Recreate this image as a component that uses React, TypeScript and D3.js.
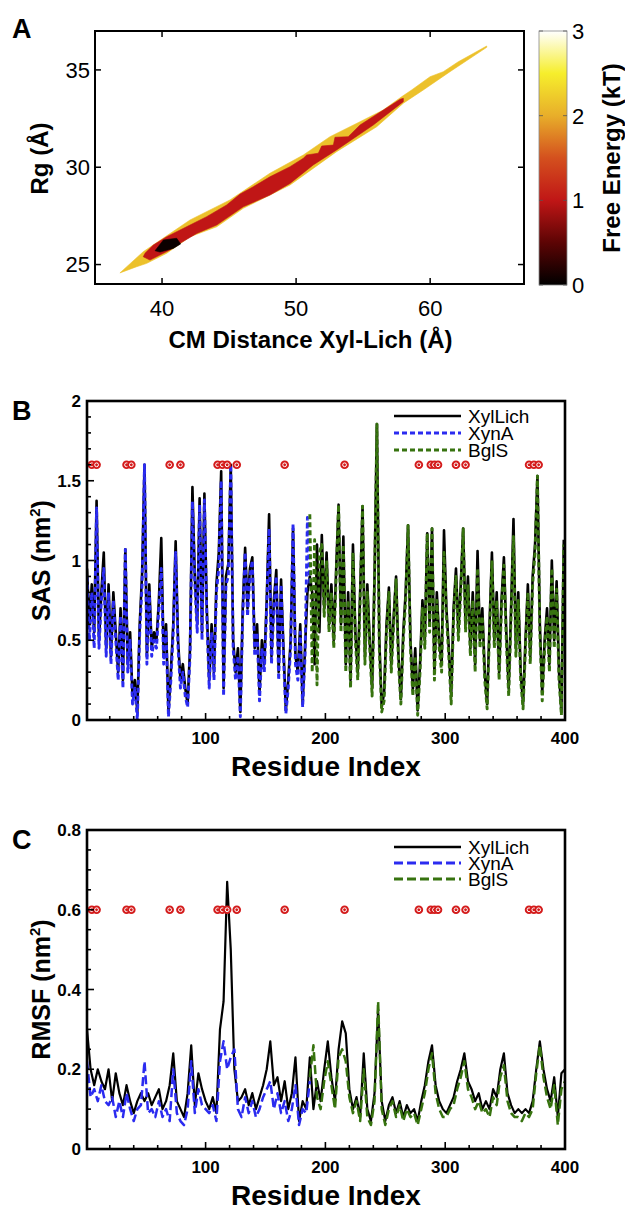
import React from 'react'
import * as d3 from 'd3'

// ---- panel A: free energy landscape (outlines of the filled contour levels)
const levelValues = [2.15, 1.0, 0.06]
const level2X = [36.86, 38.6, 42.09, 45.07, 48.05, 50.54, 52.53, 54.77, 56.5, 57.87, 58.62, 59.99, 60.98, 62.1, 64.22,
  64.22, 61.48, 59.49, 58.0, 56.01, 53.02, 49.55, 46.06, 44.08, 42.09, 40.35, 38.86, 38.11]
const level2Y = [24.57, 25.66, 27.29, 28.32, 29.69, 30.63, 31.57, 32.34, 32.94, 33.62, 33.97, 34.65, 34.91, 35.42, 36.23,
  36.16, 34.91, 33.97, 33.29, 32.08, 30.8, 29.09, 27.89, 26.94, 26.43, 25.58, 25.06, 24.89]
const level1X = [38.73, 39.35, 40.35, 42.09, 43.33, 44.82, 45.82, 46.81, 48.05, 49.55, 50.54, 50.79, 51.66, 51.91, 52.78, 52.9,
  53.89, 54.77, 57.76, 58.0, 58.0, 55.76, 53.02, 51.28, 49.55, 48.05, 46.06, 44.08, 42.59, 41.34, 40.59, 39.1, 38.6]
const level1Y = [25.58, 26.0, 26.43, 27.03, 27.46, 28.06, 28.62, 29.0, 29.51, 30.03, 30.46, 30.63, 30.72, 31.09, 31.14, 31.54,
  31.57, 32.17, 33.49, 33.54, 33.37, 32.17, 30.89, 30.12, 29.17, 28.57, 27.97, 27.03, 26.6, 26.09, 25.75, 25.23, 25.4]
const level0X = [39.48, 40.1, 41.09, 41.39, 40.84, 39.85]
const level0Y = [25.71, 26.26, 26.35, 26.06, 25.83, 25.64]
const cmTicks = [40, 50, 60]
const rgTicks = [25, 30, 35]
const cbTicks = [0, 1, 2, 3]
const cbStops = [0, 0.5, 1, 1.5, 2, 2.5, 3]
const cbColors = ['#000000', '#5c0404', '#c01616', '#d4501e', '#e8ae2a', '#f6ee2c', '#ffffff']

// ---- panel B: SAS (nm^2)
const sasXylLich = [
  0.95, 0.6, 0.85, 0.55, 1.375, 0.5, 0.8, 1.05, 0.45, 0.85,
  0.4, 0.8, 0.55, 0.3, 0.7, 0.25, 1.07, 0.35, 0.55, 0.15,
  0.25, 0.05, 0.6, 0.92, 1.6, 0.4, 0.85, 0.45, 0.55, 0.5,
  0.75, 1.14, 0.4, 0.6, 0.05, 0.3, 0.6, 1.12, 0.5, 0.25,
  0.35, 0.2, 0.1, 0.45, 1.46, 0.9, 0.6, 1.39, 0.55, 1.42,
  0.7, 0.25, 0.6, 0.3, 0.85, 1.05, 1.56, 0.2, 0.9, 0.98,
  1.6, 0.5, 0.3, 0.45, 0.05, 0.7, 1.08, 0.7, 0.95, 1.02,
  0.45, 0.6, 0.17, 0.5, 0.35, 0.75, 1.29, 0.4, 0.75, 0.94,
  0.3, 0.88, 0.45, 0.06, 0.25, 0.5, 1.2, 0.4, 0.3, 0.6,
  0.1, 0.45, 0.8, 0.9, 0.8, 0.35, 1.1, 0.55, 1.16, 0.7,
  1.05, 0.6, 0.85, 0.5, 0.95, 1.35, 0.6, 1.15, 0.35, 0.8,
  0.25, 1.1, 0.55, 0.3, 0.8, 1.34, 0.4, 0.85, 0.5, 0.2,
  0.9, 1.855, 0.5, 0.08, 0.17, 0.6, 0.83, 0.35, 0.65, 0.9,
  0.4, 0.13, 0.55, 0.8, 1.22, 0.5, 0.19, 0.45, 0.06, 0.35,
  0.75, 0.5, 1.17, 0.6, 1.2, 0.3, 0.8, 0.5, 0.35, 1.19,
  0.7, 0.45, 0.15, 0.7, 0.95, 0.55, 0.85, 1.2, 0.6, 0.9,
  0.45, 0.8, 0.35, 1.06, 0.5, 0.7, 0.3, 0.1, 0.6, 1.05,
  0.5, 0.8, 0.3, 0.75, 1.02, 0.55, 0.2, 0.7, 1.26, 0.45,
  0.8, 0.3, 0.1, 0.5, 0.85, 0.4, 0.9, 1.1, 1.53, 0.6,
  0.17, 0.5, 0.7, 0.35, 1.0, 0.5, 0.87, 0.3, 0.05, 1.13
]
const sasXynA = [
  0.9, 0.5, 0.8, 0.45, 1.33, 0.45, 0.75, 0.95, 0.4, 0.8,
  0.35, 0.75, 0.5, 0.25, 0.65, 0.2, 1.07, 0.3, 0.5, 0.1,
  0.2, 0.0, 0.55, 0.85, 1.6, 0.35, 0.8, 0.4, 0.5, 0.45,
  0.7, 0.95, 0.35, 0.55, 0.02, 0.25, 0.55, 1.05, 0.45, 0.2,
  0.3, 0.15, 0.08, 0.4, 1.37, 0.85, 0.55, 1.35, 0.5, 1.38,
  0.65, 0.2, 0.55, 0.25, 0.8, 0.95, 1.5, 0.15, 0.85, 0.9,
  1.6, 0.45, 0.25, 0.4, 0.02, 0.65, 1.05, 0.65, 0.9, 1.0,
  0.4, 0.55, 0.12, 0.45, 0.3, 0.7, 1.2, 0.35, 0.7, 0.9,
  0.25, 0.85, 0.4, 0.04, 0.2, 0.45, 1.23, 0.35, 0.25, 0.55,
  0.08, 0.4, 1.27, 0.85
]
const sasBglS = [
  1.29, 0.3, 1.13, 0.22, 1.05, 1.1, 0.65,
  1.0, 0.55, 0.8, 0.45, 0.9, 1.35, 0.55, 1.1, 0.3, 0.75,
  0.2, 1.05, 0.5, 0.25, 0.75, 1.34, 0.35, 0.8, 0.45, 0.15,
  0.85, 1.855, 0.45, 0.05, 0.12, 0.55, 0.8, 0.3, 0.6, 0.88,
  0.35, 0.1, 0.5, 0.75, 1.22, 0.45, 0.15, 0.4, 0.03, 0.3,
  0.7, 0.45, 1.17, 0.55, 1.2, 0.25, 0.75, 0.45, 0.3, 1.05,
  0.65, 0.4, 0.1, 0.65, 0.9, 0.5, 0.8, 1.2, 0.55, 0.85,
  0.4, 0.75, 0.3, 0.95, 0.45, 0.65, 0.25, 0.07, 0.55, 1.0,
  0.45, 0.75, 0.25, 0.7, 0.97, 0.5, 0.15, 0.65, 1.15, 0.4,
  0.75, 0.25, 0.07, 0.45, 0.8, 0.35, 0.85, 1.05, 1.53, 0.55,
  0.12, 0.45, 0.65, 0.3, 0.95, 0.45, 0.82, 0.25, 0.03, 1.1
]
const sasRes = d3.range(1, 401, 2)
const sasXynARes = d3.range(1, 188, 2)
const sasBglSRes = d3.range(187, 400, 2)

// ---- panel C: RMSF (nm^2)
const rmsfXylLich = [
  0.3, 0.2, 0.16, 0.2, 0.17, 0.15, 0.2, 0.12, 0.19, 0.14,
  0.11, 0.16, 0.12, 0.09, 0.12, 0.14, 0.12, 0.14, 0.11, 0.13,
  0.15, 0.1, 0.12, 0.16, 0.24, 0.12, 0.1, 0.08, 0.14, 0.26,
  0.11, 0.19, 0.15, 0.12, 0.1, 0.13, 0.09, 0.3, 0.37, 0.67,
  0.5, 0.2, 0.12, 0.13, 0.15, 0.11, 0.14, 0.1, 0.13, 0.16,
  0.2, 0.27, 0.16, 0.18, 0.12, 0.17, 0.1, 0.14, 0.23, 0.07,
  0.12, 0.1, 0.23, 0.1, 0.17, 0.12, 0.2, 0.27, 0.18, 0.12,
  0.25, 0.32, 0.29, 0.15, 0.1, 0.13, 0.08, 0.24, 0.1, 0.07,
  0.14, 0.35, 0.12, 0.07, 0.11, 0.13, 0.09, 0.12, 0.08, 0.11,
  0.09, 0.1, 0.07, 0.12, 0.16, 0.22, 0.26, 0.16, 0.12, 0.1,
  0.09, 0.11, 0.13, 0.17, 0.2, 0.24, 0.17, 0.15, 0.12, 0.14,
  0.1, 0.12, 0.1, 0.15, 0.13, 0.2, 0.24, 0.14, 0.11, 0.09,
  0.1, 0.09, 0.1, 0.09, 0.12, 0.2, 0.27, 0.2, 0.15, 0.12,
  0.18, 0.08, 0.19, 0.2
]
const rmsfXynA = [
  0.22, 0.13, 0.15, 0.12, 0.16, 0.12, 0.11, 0.13, 0.08, 0.12,
  0.08, 0.14, 0.1, 0.07, 0.1, 0.11, 0.22, 0.09, 0.1, 0.08,
  0.12, 0.08, 0.1, 0.07, 0.2, 0.09, 0.07, 0.06, 0.1, 0.22,
  0.09, 0.15, 0.11, 0.1, 0.09, 0.11, 0.07, 0.22, 0.27, 0.2,
  0.23, 0.25, 0.1, 0.08, 0.13, 0.09, 0.12, 0.08, 0.1, 0.13,
  0.15, 0.17, 0.1, 0.14, 0.09, 0.12, 0.07, 0.1, 0.16, 0.06,
  0.1, 0.09, 0.17
]
const rmsfBglS = [
  0.18, 0.26, 0.13, 0.1, 0.17, 0.22, 0.16, 0.1, 0.23, 0.25,
  0.22, 0.13, 0.09, 0.12, 0.07, 0.2, 0.08, 0.06, 0.12, 0.37,
  0.1, 0.06, 0.1, 0.12, 0.08, 0.11, 0.07, 0.1, 0.08, 0.09,
  0.06, 0.1, 0.14, 0.2, 0.24, 0.14, 0.1, 0.08, 0.08, 0.1,
  0.11, 0.15, 0.18, 0.22, 0.15, 0.13, 0.1, 0.12, 0.09, 0.1,
  0.08, 0.13, 0.11, 0.18, 0.21, 0.12, 0.09, 0.08, 0.08, 0.07,
  0.09, 0.08, 0.1, 0.19, 0.26, 0.18, 0.13, 0.1, 0.16, 0.06,
  0.15, 0.17
]
const rmsfRes = d3.range(1, 401, 3)
const rmsfXynARes = d3.range(1, 188, 3)
const rmsfBglSRes = d3.range(187, 401, 3)

// interface residues marked with red circles
const markerRes = [5, 9, 34, 38, 70, 79, 110, 114, 118, 126, 166, 216, 278, 288, 291, 294, 309, 317, 370, 374, 378]
const residueTicks = [100, 200, 300, 400]
const sasTicks = [0, 0.5, 1, 1.5, 2]
const rmsfTicks = [0, 0.2, 0.4, 0.6, 0.8]
const seriesNames = ['XylLich', 'XynA', 'BglS']

const FONT = 'Liberation Sans, Arial, Helvetica, sans-serif'
const BLUE = '#2b2bf0'
const GREEN = '#37730f'

const colorScale = d3.scaleLinear<string>().domain(cbStops).range(cbColors)

function zip (xs: number[], ys: number[]): [number, number][] {
  return xs.map((x, i) => [x, ys[i]])
}

function PanelA () {
  const x = d3.scaleLinear().domain([35, 67]).range([95, 524])
  const y = d3.scaleLinear().domain([24, 37]).range([284, 31])
  const cb = d3.scaleLinear().domain([0, 3]).range([285, 31])
  const line = d3.line<[number, number]>().x(d => x(d[0])).y(d => y(d[1]))
  const shapes = [zip(level2X, level2Y), zip(level1X, level1Y), zip(level0X, level0Y)]
  const [l, r, t, b] = [95, 524, 31, 284]
  return (
    <g fontFamily={FONT}>
      <text x={12} y={38} fontSize={27} fontWeight='bold'>A</text>
      {shapes.map((s, i) => (
        <path key={i} d={line(s) + 'Z'} fill={colorScale(levelValues[i])}
          stroke={colorScale(levelValues[i])} strokeWidth={0.6} strokeLinejoin='round' />
      ))}
      <rect x={l} y={t} width={r - l} height={b - t} fill='none' stroke='#000' strokeWidth={2} />
      {cmTicks.map(v => (
        <g key={v}>
          <line x1={x(v)} x2={x(v)} y1={b} y2={b - 6} stroke='#000' strokeWidth={1.5} />
          <line x1={x(v)} x2={x(v)} y1={t} y2={t + 6} stroke='#000' strokeWidth={1.5} />
          <text x={x(v)} y={316} fontSize={22} textAnchor='middle'>{v}</text>
        </g>
      ))}
      {rgTicks.map(v => (
        <g key={v}>
          <line x1={l} x2={l + 6} y1={y(v)} y2={y(v)} stroke='#000' strokeWidth={1.5} />
          <line x1={r} x2={r - 6} y1={y(v)} y2={y(v)} stroke='#000' strokeWidth={1.5} />
          <text x={90} y={y(v)} dy='0.36em' fontSize={22} textAnchor='end'>{v}</text>
        </g>
      ))}
      <text x={(l + r) / 2 + 1} y={348} fontSize={24} fontWeight='bold' textAnchor='middle'>CM Distance Xyl-Lich (Å)</text>
      <text transform={`translate(48,${(t + b) / 2 + 1}) rotate(-90)`} fontSize={24} fontWeight='bold' textAnchor='middle'>Rg (Å)</text>
      <defs>
        <linearGradient id='fe-grad' x1='0' y1='1' x2='0' y2='0'>
          {cbStops.map((v, i) => (
            <stop key={v} offset={v / 3} stopColor={cbColors[i]} />
          ))}
        </linearGradient>
      </defs>
      <rect x={539} y={31} width={28} height={254} fill='url(#fe-grad)' stroke='#888' strokeWidth={0.8} />
      {cbTicks.map(v => (
        <g key={v}>
          <line x1={539} x2={543} y1={cb(v)} y2={cb(v)} stroke='#555' strokeWidth={0.8} />
          <line x1={567} x2={563} y1={cb(v)} y2={cb(v)} stroke='#555' strokeWidth={0.8} />
          <text x={572} y={cb(v)} dy='0.36em' fontSize={22}>{v}</text>
        </g>
      ))}
      <text transform='translate(620,158) rotate(-90)' fontSize={24} fontWeight='bold' textAnchor='middle'>Free Energy (kT)</text>
    </g>
  )
}

interface ProfileProps {
  label: string
  top: number
  bottom: number
  yMax: number
  yTicks: number[]
  yMinor: number
  yTitle: string
  black: number[]
  blackRes: number[]
  blue: number[]
  blueRes: number[]
  green: number[]
  greenRes: number[]
  markerY: number
  dash: string
  lineW: number
  clipId: string
  legendY: number
  legendStep: number
  yLabelFmt: (v: number) => string
}

function ProfilePanel (p: ProfileProps) {
  const l = 87
  const r = 565
  const x = d3.scaleLinear().domain([1, 400]).range([l, r])
  const y = d3.scaleLinear().domain([0, p.yMax]).range([p.bottom, p.top])
  const mk = (res: number[]) => d3.line<number>().x((_, i) => x(res[i])).y(d => y(d))
  const xMinor = d3.range(20, 401, 20)
  const yMinor = d3.range(0, p.yMax + 1e-9, p.yMinor)
  const legendColors = ['#000', BLUE, GREEN]
  return (
    <g fontFamily={FONT}>
      <defs>
        <clipPath id={p.clipId}>
          <rect x={l} y={p.top} width={r - l} height={p.bottom - p.top} />
        </clipPath>
      </defs>
      <text x={12} y={p.top + 19} fontSize={27} fontWeight='bold'>{p.label}</text>
      <g clipPath={`url(#${p.clipId})`} fill='none' strokeLinejoin='round'>
        <path d={mk(p.blackRes)(p.black) || ''} stroke='#000' strokeWidth={p.lineW} />
        <path d={mk(p.blueRes)(p.blue) || ''} stroke={BLUE} strokeWidth={p.lineW + 0.3} strokeDasharray={p.dash} />
        <path d={mk(p.greenRes)(p.green) || ''} stroke={GREEN} strokeWidth={p.lineW + 0.3} strokeDasharray={p.dash} />
      </g>
      {markerRes.map((m, i) => (
        <g key={i} transform={`translate(${x(m)},${y(p.markerY)})`}>
          <circle r={4.3} fill='#d41c1c' />
          <circle r={1.9} fill='none' stroke='#fff' strokeWidth={1} />
        </g>
      ))}
      {xMinor.map(v => (
        <line key={v} x1={x(v)} x2={x(v)} y1={p.bottom} y2={p.bottom - (v % 100 === 0 ? 7 : 4)} stroke='#000' strokeWidth={1.6} />
      ))}
      {yMinor.map((v, i) => (
        <line key={i} x1={l} x2={l + (p.yTicks.some(t => Math.abs(t - v) < 1e-6) ? 7 : 4)} y1={y(v)} y2={y(v)} stroke='#000' strokeWidth={1.6} />
      ))}
      <rect x={l} y={p.top} width={r - l} height={p.bottom - p.top} fill='none' stroke='#000' strokeWidth={2.6} />
      {residueTicks.map(v => (
        <text key={v} x={x(v)} y={p.bottom + 24} fontSize={17} fontWeight='bold' textAnchor='middle'>{v}</text>
      ))}
      {p.yTicks.map(v => (
        <text key={v} x={81} y={y(v)} dy='0.36em' fontSize={17} fontWeight='bold' textAnchor='end'>{p.yLabelFmt(v)}</text>
      ))}
      <text x={(l + r) / 2} y={p.bottom + 56} fontSize={28} fontWeight='bold' textAnchor='middle'>Residue Index</text>
      <text transform={`translate(50,${(p.top + p.bottom) / 2}) rotate(-90)`} fontSize={25} fontWeight='bold' textAnchor='middle'>
        {p.yTitle} (nm<tspan dy={-10} fontSize={15}>2</tspan><tspan dy={10}>)</tspan>
      </text>
      {seriesNames.map((n, i) => (
        <g key={n}>
          <line x1={394} x2={461} y1={p.legendY + i * p.legendStep} y2={p.legendY + i * p.legendStep}
            stroke={legendColors[i]} strokeWidth={i === 0 ? 2.6 : 2.8} strokeDasharray={i === 0 ? undefined : p.dash} />
          <text x={468} y={p.legendY + i * p.legendStep + 7} fontSize={19}>{n}</text>
        </g>
      ))}
    </g>
  )
}

export default function App () {
  return (
    <svg width={625} height={1210} style={{ position: 'absolute', left: 0, top: 0, background: '#fff' }}>
      <rect width={625} height={1210} fill='#fff' />
      <PanelA />
      <ProfilePanel label='B' top={401} bottom={720} yMax={2} yTicks={sasTicks} yMinor={0.1} yTitle='SAS'
        black={sasXylLich} blackRes={sasRes} blue={sasXynA} blueRes={sasXynARes} green={sasBglS} greenRes={sasBglSRes}
        markerY={1.6} dash='5,3' lineW={2.6} clipId='clip-sas' legendY={416} legendStep={17}
        yLabelFmt={v => (v === 0 ? '0' : String(v))} />
      <ProfilePanel label='C' top={830} bottom={1149} yMax={0.8} yTicks={rmsfTicks} yMinor={0.05} yTitle='RMSF'
        black={rmsfXylLich} blackRes={rmsfRes} blue={rmsfXynA} blueRes={rmsfXynARes} green={rmsfBglS} greenRes={rmsfBglSRes}
        markerY={0.6} dash='9,4' lineW={2.2} clipId='clip-rmsf' legendY={847} legendStep={16}
        yLabelFmt={v => (v === 0 ? '0' : v.toFixed(1))} />
    </svg>
  )
}
